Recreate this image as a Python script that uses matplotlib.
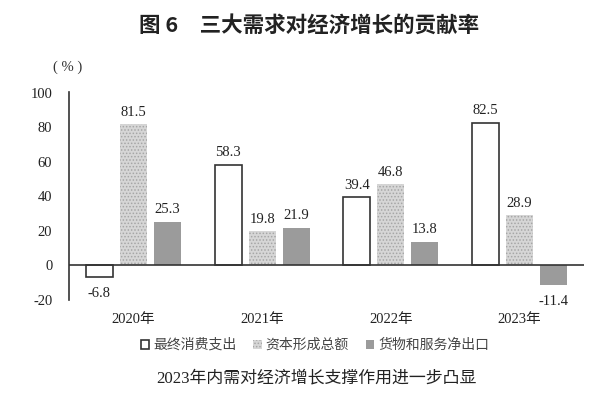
import matplotlib
matplotlib.use('Agg')
import matplotlib.pyplot as plt
from matplotlib.patches import Patch
import numpy as np

# ---- data ----
years = ['2020年', '2021年', '2022年', '2023年']
series_names = ['最终消费支出', '资本形成总额', '货物和服务净出口']
consumption = [-6.8, 58.3, 39.4, 82.5]
capital = [81.5, 19.8, 46.8, 28.9]
net_exports = [25.3, 21.9, 13.8, -11.4]
yticks = [-20, 0, 20, 40, 60, 80, 100]

title = '图 6\u3000三大需求对经济增长的贡献率'
caption = '2023年内需对经济增长支撑作用进一步凸显'
unit = '( % )'

SERIF_CJK = ['Liberation Serif', 'Noto Sans CJK SC']
CJK = ['Noto Sans CJK SC', 'DejaVu Sans']
plt.rcParams['hatch.linewidth'] = 0.7

fig = plt.figure(figsize=(5.98, 3.99), dpi=100)
ax = fig.add_axes([69 / 598, 1 - 300 / 399, (584 - 69) / 598, (300 - 92.5) / 399])

x = np.arange(len(years))
w = 0.21
off = 0.264
styles = [
    dict(facecolor='white', edgecolor='#333333', linewidth=1.2),
    dict(facecolor='#d6d6d6', edgecolor='#a6a6a6', hatch='.....', linewidth=0),
    dict(facecolor='#9b9b9b', edgecolor='#9b9b9b', linewidth=0),
]
all_series = [consumption, capital, net_exports]
handles = []
for i, (vals, st) in enumerate(zip(all_series, styles)):
    pos = x + (i - 1) * off
    ax.bar(pos, vals, width=w, zorder=2, **st)
    for px, v in zip(pos, vals):
        if v >= 0:
            ax.annotate(f'{v:.1f}', (px, v), xytext=(0, 4), textcoords='offset points',
                        ha='center', va='bottom', fontsize=10.5,
                        family='Liberation Serif', color='#222222')
        else:
            ax.annotate(f'{v:.1f}', (px, v), xytext=(0, -7), textcoords='offset points',
                        ha='center', va='top', fontsize=10.5,
                        family='Liberation Serif', color='#222222')
    handles.append(Patch(label=series_names[i], **st))

ax.axhline(0, color='#333333', linewidth=1.2, zorder=3)
ax.set_xlim(-0.5, 3.5)
ax.set_ylim(-20, 100)
ax.set_yticks(yticks)
ax.set_yticklabels([str(t) for t in yticks], family='Liberation Serif', fontsize=10.5, color='#222222')
ax.set_xticks(x)
ax.set_xticklabels(years, family=SERIF_CJK, fontsize=10.5, color='#222222')
ax.tick_params(axis='y', length=0, pad=12)
ax.tick_params(axis='x', length=0, pad=9)
for s in ['top', 'right', 'bottom']:
    ax.spines[s].set_visible(False)
ax.spines['left'].set_color('#333333')
ax.spines['left'].set_linewidth(1.2)

fig.text(68 / 598, 1 - 67 / 399, unit, ha='center', va='center', fontsize=10.5,
         family='Liberation Serif', color='#333333')
fig.text(309 / 598, 1 - 25 / 399, title, ha='center', va='center', fontsize=15.5,
         family=CJK, fontweight='bold', color='#222222')
fig.text(316 / 598, 1 - 378 / 399, caption, ha='center', va='center', fontsize=12.2,
         family=SERIF_CJK, color='#222222')

leg = fig.legend(handles=handles, loc='center', bbox_to_anchor=(315 / 598, 1 - 345 / 399),
                 ncol=3, frameon=False, prop={'family': CJK, 'size': 10},
                 handlelength=0.6, handleheight=0.6, handletextpad=0.3,
                 columnspacing=1.2, borderpad=0)
for t in leg.get_texts():
    t.set_color('#444444')

fig.savefig('out.png', dpi=100)
